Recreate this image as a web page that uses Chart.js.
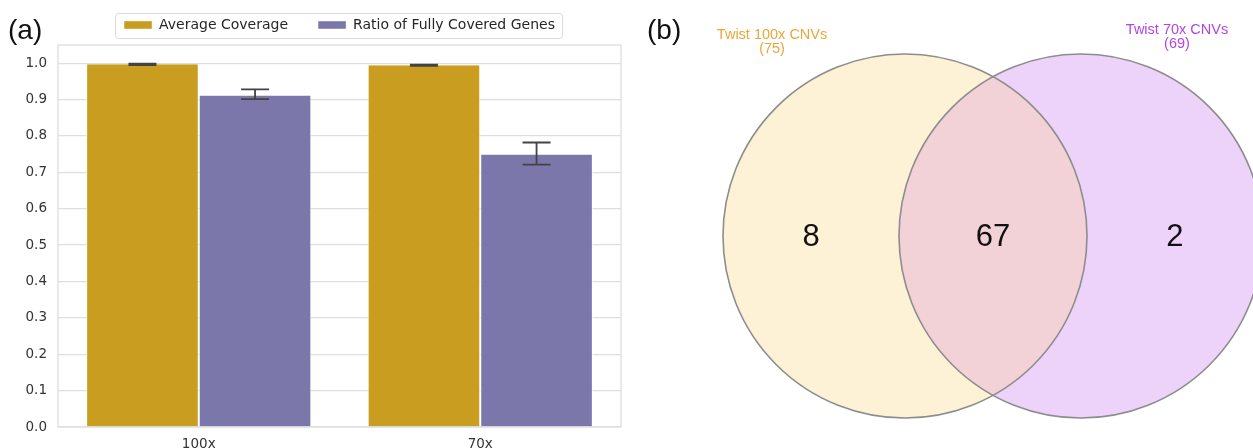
<!DOCTYPE html>
<html>
<head>
<meta charset="utf-8">
<script src="https://cdn.jsdelivr.net/npm/chart.js@4.4.1/dist/chart.umd.min.js"></script>
<style>
  html, body { margin: 0; padding: 0; background: #ffffff; }
  #wrap { position: relative; width: 1253px; height: 448px; overflow: hidden; background: #ffffff; }
  #bars { position: absolute; left: 0; top: 0; }
  #venn { position: absolute; left: 630px; top: 0; }
</style>
</head>
<body>
<div id="wrap">
  <canvas id="bars" width="630" height="448"></canvas>
  <canvas id="venn" width="623" height="448"></canvas>
</div>
<script>
// ---- Panel (a): coverage at two sequencing depths ----
const depths = ['100x', '70x'];
const seriesNames = ['Average Coverage', 'Ratio of Fully Covered Genes'];
const avgCoverage = [0.997, 0.994];
const avgCoverageLow = [0.995, 0.993];
const avgCoverageHigh = [0.999, 0.996];
const fullyCovered = [0.911, 0.749];
const fullyCoveredLow = [0.901, 0.721];
const fullyCoveredHigh = [0.928, 0.782];
const yTicks = [0.0, 0.1, 0.2, 0.3, 0.4, 0.5, 0.6, 0.7, 0.8, 0.9, 1.0];

// ---- Panel (b): overlap of CNV calls ----
const vennSets = ['Twist 100x CNVs', 'Twist 70x CNVs'];
const vennTotals = [75, 69];
const vennRegions = [8, 67, 2]; // 100x only, shared, 70x only

const GOLD = '#C99D1F';
const PURPLE = '#7B77AB';
const GRID = '#dedede';
const TICK_FONT = { family: '"DejaVu Sans", sans-serif', size: 13.5 };

// light frame around the plotting area
const axesFrame = {
  id: 'axesFrame',
  beforeDatasetsDraw(chart) {
    const { ctx, chartArea: a } = chart;
    ctx.save();
    ctx.strokeStyle = GRID;
    ctx.lineWidth = 1.3;
    ctx.strokeRect(a.left, a.top, a.right - a.left, a.bottom - a.top);
    ctx.restore();
  }
};

// confidence-interval whiskers on each bar
const errorBars = {
  id: 'errorBars',
  afterDatasetsDraw(chart) {
    const { ctx } = chart;
    const y = chart.scales.y;
    chart.data.datasets.forEach((ds, i) => {
      chart.getDatasetMeta(i).data.forEach((bar, j) => {
        const top = y.getPixelForValue(ds.ciHigh[j]);
        const bot = y.getPixelForValue(ds.ciLow[j]);
        const cap = 14;
        ctx.save();
        ctx.strokeStyle = '#434343';
        ctx.lineWidth = 1.8;
        ctx.beginPath();
        ctx.moveTo(bar.x, top); ctx.lineTo(bar.x, bot);
        ctx.moveTo(bar.x - cap, top); ctx.lineTo(bar.x + cap, top);
        ctx.moveTo(bar.x - cap, bot); ctx.lineTo(bar.x + cap, bot);
        ctx.stroke();
        ctx.restore();
      });
    });
  }
};

// rounded box around the legend entries
const legendBox = {
  id: 'legendBox',
  afterDraw(chart) {
    const boxes = chart.legend && chart.legend.legendHitBoxes;
    if (!boxes || !boxes.length) return;
    const { ctx } = chart;
    const left = Math.min(...boxes.map(b => b.left)) - 9;
    const right = Math.max(...boxes.map(b => b.left + b.width)) + 7;
    const top = boxes[0].top - 5;
    const bottom = boxes[0].top + boxes[0].height + 6;
    ctx.save();
    ctx.strokeStyle = '#dadada';
    ctx.lineWidth = 1;
    ctx.beginPath();
    ctx.roundRect(left + 0.5, top + 0.5, right - left, bottom - top, 3);
    ctx.stroke();
    ctx.restore();
  }
};

function panelLetter(id, text, x, y) {
  return {
    id,
    afterDraw(chart) {
      const { ctx } = chart;
      ctx.save();
      ctx.fillStyle = '#111111';
      ctx.font = '28px "Liberation Sans", Arial, sans-serif';
      ctx.textAlign = 'left';
      ctx.textBaseline = 'alphabetic';
      ctx.fillText(text, x, y);
      ctx.restore();
    }
  };
}

new Chart(document.getElementById('bars'), {
  type: 'bar',
  data: {
    labels: depths,
    datasets: [
      { label: seriesNames[0], data: avgCoverage, ciLow: avgCoverageLow, ciHigh: avgCoverageHigh,
        backgroundColor: GOLD },
      { label: seriesNames[1], data: fullyCovered, ciLow: fullyCoveredLow, ciHigh: fullyCoveredHigh,
        backgroundColor: PURPLE }
    ]
  },
  options: {
    responsive: false,
    animation: false,
    events: [],
    layout: { padding: { left: 0, right: 9, top: -12, bottom: 0 } },
    datasets: {
      bar: {
        categoryPercentage: 0.8,
        barPercentage: 1.0,
        borderColor: 'rgba(255,255,255,0.85)',
        borderWidth: { left: 1, right: 1, top: 0, bottom: 0 },
        borderSkipped: false
      }
    },
    scales: {
      x: {
        grid: { display: false, drawTicks: false },
        border: { display: false },
        ticks: { color: '#333333', font: TICK_FONT, padding: 9 },
        afterFit(s) { s.height = 21; }
      },
      xTop: {
        type: 'category',
        position: 'top',
        grid: { display: false, drawTicks: false },
        border: { display: false },
        ticks: { display: false },
        afterFit(s) { s.height = 3; }
      },
      y: {
        min: 0,
        max: 1.05,
        afterBuildTicks(s) { s.ticks = yTicks.map(v => ({ value: v })); },
        grid: { color: GRID, lineWidth: 1.3, drawTicks: false },
        border: { display: false },
        ticks: {
          color: '#333333',
          font: TICK_FONT,
          padding: 11,
          callback: v => Number(v).toFixed(1)
        },
        afterFit(s) { s.width = 58; }
      }
    },
    plugins: {
      legend: {
        position: 'top',
        fullSize: false,
        labels: {
          boxWidth: 28,
          boxHeight: 8,
          padding: 30,
          color: '#262626',
          font: { family: '"DejaVu Sans", sans-serif', size: 14 }
        }
      },
      tooltip: { enabled: false }
    }
  },
  plugins: [axesFrame, errorBars, legendBox, panelLetter('letterA', '(a)', 8, 39)]
});

// ---- Venn diagram (equal-size circles) ----
const VENN_R = 1;          // circle radius in axis units
const VENN_HALF = 0.4835;  // half distance between circle centres
const VENN_FILL = ['#FDF2D6', '#EDD3F9'];
const VENN_LENS = '#F2D2D6';
const VENN_EDGE = '#8d8d8d';
const VENN_LABEL_COLORS = ['#E9A73A', '#B544E4'];
// anchor of each set caption (axis units)
const VENN_LABEL_POS = [{ x: -1.214, y: 1.082 }, { x: 1.011, y: 1.110 }];

function vennGeometry(chart) {
  const xs = chart.scales.x, ys = chart.scales.y;
  const r = xs.getPixelForValue(VENN_R) - xs.getPixelForValue(0);
  const centres = chart.getDatasetMeta(0).data.map(p => ({ x: p.x, y: p.y }));
  return { xs, ys, r, a: centres[0], b: centres[1] };
}

// the two set circles, filled beneath everything else
const vennCircles = {
  id: 'vennCircles',
  beforeDatasetsDraw(chart) {
    const { ctx } = chart;
    const { r, a, b } = vennGeometry(chart);
    ctx.save();
    [a, b].forEach((c, i) => {
      ctx.beginPath();
      ctx.arc(c.x, c.y, r, 0, Math.PI * 2);
      ctx.fillStyle = VENN_FILL[i];
      ctx.fill();
    });
    // shared region
    ctx.beginPath();
    ctx.arc(a.x, a.y, r, 0, Math.PI * 2);
    ctx.clip();
    ctx.beginPath();
    ctx.arc(b.x, b.y, r, 0, Math.PI * 2);
    ctx.fillStyle = VENN_LENS;
    ctx.fill();
    ctx.restore();

    // outlines
    ctx.save();
    ctx.strokeStyle = VENN_EDGE;
    ctx.lineWidth = 1.6;
    [a, b].forEach(c => {
      ctx.beginPath();
      ctx.arc(c.x, c.y, r, 0, Math.PI * 2);
      ctx.stroke();
    });
    ctx.restore();
  },
  afterDatasetsDraw(chart) {
    const { ctx } = chart;
    const { xs, ys, r, a, b } = vennGeometry(chart);
    // region counts
    const centres = [
      ((a.x - r) + (b.x - r)) / 2,
      ((b.x - r) + (a.x + r)) / 2,
      ((a.x + r) + (b.x + r)) / 2
    ];
    ctx.save();
    ctx.fillStyle = '#111111';
    ctx.font = '31px "Liberation Sans", Arial, sans-serif';
    ctx.textAlign = 'center';
    ctx.textBaseline = 'middle';
    vennRegions.forEach((n, i) => ctx.fillText(String(n), centres[i], a.y + 1));
    ctx.restore();

    // set captions
    ctx.save();
    ctx.font = '14.5px "Liberation Sans", Arial, sans-serif';
    ctx.textAlign = 'center';
    ctx.textBaseline = 'alphabetic';
    vennSets.forEach((name, i) => {
      const px = xs.getPixelForValue(VENN_LABEL_POS[i].x);
      const py = ys.getPixelForValue(VENN_LABEL_POS[i].y);
      ctx.fillStyle = VENN_LABEL_COLORS[i];
      ctx.fillText(name, px, py);
      ctx.fillText('(' + vennTotals[i] + ')', px, py + 14);
    });
    ctx.restore();
  }
};

new Chart(document.getElementById('venn'), {
  type: 'scatter',
  data: {
    datasets: [{
      data: [{ x: -VENN_HALF, y: 0 }, { x: VENN_HALF, y: 0 }],
      pointRadius: 0,
      pointHoverRadius: 0,
      showLine: false
    }]
  },
  options: {
    responsive: false,
    animation: false,
    events: [],
    layout: { padding: 0 },
    scales: {
      x: { type: 'linear', display: false, min: -1.9945, max: 1.4286 },
      y: { type: 'linear', display: false, min: -1.1648, max: 1.2967 }
    },
    plugins: { legend: { display: false }, tooltip: { enabled: false } }
  },
  plugins: [vennCircles, panelLetter('letterB', '(b)', 17, 39)]
});
</script>
</body>
</html>
